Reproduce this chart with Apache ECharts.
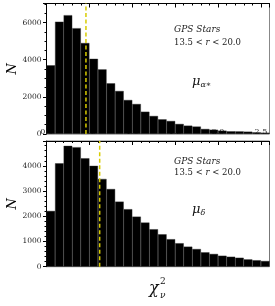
<!DOCTYPE html>
<html><head><meta charset="utf-8">
<script src="https://cdn.jsdelivr.net/npm/echarts@6/dist/echarts.min.js"></script>
<style>html,body{margin:0;padding:0;background:#fff}#c{width:275px;height:306px}</style>
</head><body><div id="c"></div>
<script>
// bins of chi^2_nu, width 0.1, from 0.0 to 2.6
const binLabels = ['0.0','0.1','0.2','0.3','0.4','0.5','0.6','0.7','0.8','0.9','1.0','1.1','1.2','1.3','1.4','1.5','1.6','1.7','1.8','1.9','2.0','2.1','2.2','2.3','2.4','2.5'];
const countsMuAlpha = [3700,6050,6400,5700,4900,4050,3480,2730,2315,1830,1615,1200,970,790,700,540,450,400,270,230,180,145,140,125,90,70];
const countsMuDelta = [2210,4100,4790,4740,4300,4000,3480,3080,2580,2280,1985,1750,1485,1285,1090,930,795,700,570,505,435,395,355,290,255,225];
const medianMuAlpha = 0.46;
const medianMuDelta = 0.62;
const xMin = 0, xMax = 2.6;
const yMaxTop = 7030, yMaxBottom = 4985;

const serif = '"DejaVu Serif", "Liberation Serif", serif';
const chart = echarts.init(document.getElementById('c'), null, {renderer:'canvas'});

function valueX(gridIndex, showLabels){
  const ax = {type:'value', gridIndex, min:xMin, max:xMax, interval:0.5,
    axisLine:{show:true, lineStyle:{color:'#000', width:1}},
    axisTick:{show:true, inside:true, length:4, lineStyle:{color:'#000'}},
    minorTick:{show:true, splitNumber:5, length:2, lineStyle:{color:'#000'}},
    splitLine:{show:false}, minorSplitLine:{show:false}};
  ax.axisLabel = showLabels
    ? {show:true, fontFamily:serif, fontSize:8, color:'#222', margin:5, showMaxLabel:false, formatter:v=>v.toFixed(1)}
    : {show:false, formatter:()=>''};
  return ax;
}
function catX(gridIndex){
  return {type:'category', gridIndex, data:binLabels, boundaryGap:true, show:false,
    axisLabel:{show:false, formatter:()=>''}, axisTick:{show:false}, axisLine:{show:false}};
}
function valueY(gridIndex, max, interval, minorSplit){
  return {type:'value', gridIndex, min:0, max, interval,
    name:'N', nameLocation:'middle', nameGap:27, nameRotate:90, nameMoveOverlap:false,
    nameTextStyle:{fontFamily:serif, fontStyle:'italic', fontSize:13, color:'#000'},
    axisLine:{show:true, lineStyle:{color:'#000', width:1}},
    axisTick:{show:true, inside:false, length:3.5, lineStyle:{color:'#000'}},
    minorTick:{show:true, splitNumber:minorSplit, length:2, lineStyle:{color:'#000'}},
    splitLine:{show:false},
    axisLabel:{fontFamily:serif, fontSize:7.5, color:'#222', margin:5, showMaxLabel:false,
      formatter:v=>String(v)}};
}
const barStyle = {color:'#000', borderColor:'#2a2a2a', borderWidth:0.4};
const dashStyle = {color:'#d8cc00', width:1.5, type:[4,2.5]};

chart.setOption({
  animation:false,
  grid:[
    {left:46.5, right:5.5, top:3.5, height:130.5, show:true, borderColor:'#888', borderWidth:1, backgroundColor:'transparent', containLabel:false, outerBoundsMode:'none'},
    {left:46.5, right:5.5, top:141, height:125.7, show:true, borderColor:'#777', borderWidth:1, backgroundColor:'transparent', containLabel:false, outerBoundsMode:'none'}
  ],
  xAxis:[catX(0), valueX(0,false), catX(1), valueX(1,true)],
  yAxis:[valueY(0, yMaxTop, 2000, 4), valueY(1, yMaxBottom, 1000, 5)],
  series:[
    {type:'bar', xAxisIndex:0, yAxisIndex:0, data:countsMuAlpha, barCategoryGap:'0%', itemStyle:barStyle},
    {type:'line', xAxisIndex:1, yAxisIndex:0, data:[[medianMuAlpha,0],[medianMuAlpha,yMaxTop]], symbol:'none', lineStyle:dashStyle, z:5},
    {type:'bar', xAxisIndex:2, yAxisIndex:1, data:countsMuDelta, barCategoryGap:'0%', itemStyle:barStyle},
    {type:'line', xAxisIndex:3, yAxisIndex:1, data:[[medianMuDelta,0],[medianMuDelta,yMaxBottom]], symbol:'none', lineStyle:dashStyle, z:5}
  ],
  graphic:[
    {type:'text', left:174, top:25, style:{text:'GPS Stars', font:'italic 9px '+serif, fill:'#222'}},
    {type:'text', left:174, top:38, style:{text:'{n|13.5 < }{r|r}{n| < 20.0}', rich:{n:{fontFamily:serif, fontSize:8.5, fill:'#222'}, r:{fontFamily:serif, fontStyle:'italic', fontSize:8.5, fill:'#222'}}}},
    {type:'text', left:192, top:75, style:{text:'{m|μ}{s|α∗}', rich:{m:{fontFamily:serif, fontStyle:'italic', fontSize:13, fill:'#111'}, s:{fontFamily:serif, fontStyle:'italic', fontSize:8, fill:'#111', padding:[7,0,0,0]}}}},
    {type:'text', left:174, top:157, style:{text:'GPS Stars', font:'italic 9px '+serif, fill:'#222'}},
    {type:'text', left:174, top:168, style:{text:'{n|13.5 < }{r|r}{n| < 20.0}', rich:{n:{fontFamily:serif, fontSize:8.5, fill:'#222'}, r:{fontFamily:serif, fontStyle:'italic', fontSize:8.5, fill:'#222'}}}},
    {type:'text', left:192, top:203, style:{text:'{m|μ}{s|δ}', rich:{m:{fontFamily:serif, fontStyle:'italic', fontSize:13, fill:'#111'}, s:{fontFamily:serif, fontStyle:'italic', fontSize:8, fill:'#111', padding:[7,0,0,0]}}}},
    {type:'text', left:149, top:281, style:{text:'χ', font:'italic 16px '+serif, fill:'#111'}},
    {type:'text', left:160, top:277, style:{text:'2', font:'9px '+serif, fill:'#111'}},
    {type:'text', left:160, top:291, style:{text:'ν', font:'italic 9px '+serif, fill:'#111'}}
  ]
});
</script></body></html>
